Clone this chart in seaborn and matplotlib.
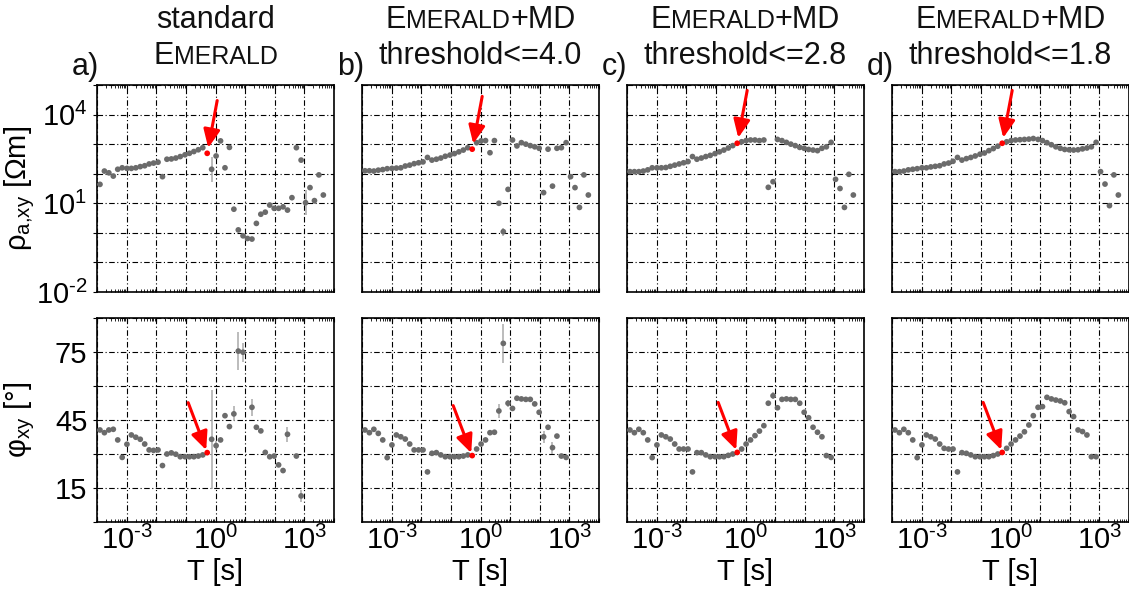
import numpy as np
import pandas as pd
import matplotlib
matplotlib.use("Agg")
import matplotlib.pyplot as plt
import seaborn as sns
from matplotlib.ticker import FixedLocator, FuncFormatter, NullFormatter

# ---------------- data ----------------
log_T = [-3.90, -3.75, -3.60, -3.45, -3.30, -3.15, -2.99, -2.84, -2.69, -2.54,
         -2.39, -2.24, -2.09, -1.94, -1.79, -1.64, -1.49, -1.34, -1.19, -1.03,
         -0.88, -0.73, -0.58, -0.43, -0.28, -0.13, 0.02, 0.17, 0.32, 0.47,
         0.62, 0.77, 0.93, 1.08, 1.23, 1.38, 1.53, 1.68, 1.83, 1.98,
         2.13, 2.28, 2.43, 2.58, 2.73, 2.89, 3.04, 3.19, 3.34, 3.49, 3.64]
red_index = 24
nan = np.nan

# panel a: standard EMERALD
rho_a = [1.64, 2.09, 2.03, 1.92, 2.15, 2.20, 2.18, 2.18, 2.20, 2.24,
         2.27, 2.33, 2.36, 2.39, 1.90, 2.49, 2.50, 2.53, 2.58, 2.64,
         2.69, 2.75, 2.81, 2.88, 2.69, 2.15, 2.60, 3.11, 2.20, 2.89,
         0.80, 0.10, -0.10, -0.19, -0.21, 0.32, 0.63, 0.70, 0.94, 0.83,
         0.83, 0.88, 0.77, 1.19, 2.88, 2.46, 1.02, 1.53, 1.09, 1.96, 1.28]
rho_a_err = {25: 0.42, 46: 0.43, 48: 0.10, 49: 0.08}
phi_a = [40.6, 39.4, 40.6, 40.9, 36.2, 28.5, 34.3, 38.4, 37.4, 36.5,
         34.4, 31.8, 31.6, 31.8, 24.9, 30.0, 30.5, 29.9, 28.8, 28.8,
         28.8, 28.8, 29.1, 29.6, 30.6, 36.5, 33.7, 36.2, 46.9, 42.1,
         47.7, 75.4, 74.9, nan, 50.6, 41.8, 40.2, 30.7, 28.8, 29.1,
         25.2, 22.7, 38.7, nan, 29.1, 11.5, nan, nan, nan, nan, nan]
phi_a_err = {25: 21.8, 26: 2.0, 30: 3.3, 31: 8.5, 32: 4.2, 34: 3.7, 42: 3.3, 45: 2.5}

# panel b: threshold <= 4.0
rho_b = [2.10, 2.10, 2.09, 2.12, 2.14, 2.17, 2.18, 2.19, 2.20, 2.26,
         2.29, 2.34, 2.37, 2.40, 2.55, 2.46, 2.49, 2.53, 2.59, 2.63,
         2.68, 2.74, 2.80, 2.88, 2.83, 3.05, 3.11, 3.12, 2.71, 3.12,
         1.00, 0.04, 1.47, 3.14, 2.94, 3.05, 3.00, 2.95, 2.91, 2.86,
         1.36, 2.83, 1.58, 2.86, 2.88, 3.05, 1.90, 1.53, 0.86, 1.96, 1.28]
rho_b_err = {31: 0.13, 32: 0.06, 49: 0.08}
phi_b = [40.6, 39.4, 40.9, 39.1, 36.2, 28.4, 34.0, 38.4, 37.6, 36.6,
         34.4, 31.8, 31.8, 31.8, 22.1, 30.3, 30.6, 29.6, 28.8, 28.8,
         28.8, 28.8, 29.1, 29.6, 29.3, 32.2, 34.4, 36.2, 39.4, 39.6,
         49.0, 78.8, 52.4, 50.1, 54.6, 54.3, 54.1, 54.1, 52.1, 48.4,
         37.6, 41.8, 32.8, 37.9, 29.1, 28.5, nan, nan, nan, nan, nan]
phi_b_err = {30: 3.0, 31: 8.7, 32: 1.5, 40: 2.6, 42: 2.6}

# panel c: threshold <= 2.8
rho_c = [2.07, 2.07, 2.07, 2.09, 2.13, 2.20, 2.20, 2.20, 2.21, 2.25,
         2.29, 2.33, 2.37, 2.41, 2.58, 2.49, 2.53, 2.58, 2.62, 2.68,
         2.74, 2.80, 2.87, 2.95, 3.03, 3.08, 3.12, 3.14, 3.14, 3.12,
         3.14, 1.54, 1.73, 3.16, 3.12, 3.06, 3.00, 2.95, 2.89, 2.86,
         2.82, 2.80, 2.78, 2.86, 2.91, 3.06, 1.81, 1.50, 0.86, 1.98, 1.28]
rho_c_err = {49: 0.08}
phi_c = [40.6, 39.4, 40.9, 39.4, 36.2, 28.4, 34.0, 38.4, 37.6, 36.6,
         34.4, 32.2, 32.2, 32.2, 22.1, 30.6, 30.6, 29.6, 28.8, 28.8,
         28.8, 28.8, 29.4, 30.0, 30.7, 32.2, 34.4, 36.2, 38.1, 40.1,
         42.5, 52.4, 55.7, 50.4, 54.1, 54.3, 54.1, 54.1, 52.4, 48.4,
         46.0, 41.8, 39.6, 37.6, 29.3, 28.5, nan, nan, nan, nan, nan]
phi_c_err = {32: 1.5}

# panel d: threshold <= 1.8
rho_d = [2.07, 2.07, 2.09, 2.13, 2.15, 2.17, 2.20, 2.20, 2.23, 2.25,
         2.27, 2.33, 2.36, 2.42, 2.55, 2.46, 2.51, 2.55, 2.60, 2.66,
         2.70, 2.78, 2.85, 2.93, 3.03, 3.08, 3.12, 3.14, 3.15, 3.16,
         3.17, 3.19, 3.16, 3.12, 3.05, 2.98, 2.91, 2.86, 2.82, 2.81,
         2.80, 2.81, 2.84, 2.87, 2.91, 3.06, 2.07, 1.65, 0.92, 1.96, 1.28]
rho_d_err = {46: 0.06, 49: 0.08}
phi_d = [40.6, 39.4, 40.9, 39.4, 36.2, 28.4, 34.0, 38.4, 37.6, 36.6,
         34.4, 32.5, 32.2, 32.2, 22.1, 30.6, 30.3, 29.6, 28.8, 28.8,
         28.8, 28.8, 29.3, 30.0, 30.7, 32.5, 34.4, 36.2, 37.9, 39.8,
         42.8, 46.9, 50.6, 50.9, 55.0, 54.3, 53.8, 53.4, 52.6, 48.7,
         46.5, 40.6, 39.9, 38.4, 28.8, 28.8, nan, nan, nan, nan, nan]
phi_d_err = {}

letters = ["a)", "b)", "c)", "d)"]
thresholds = ["4.0", "2.8", "1.8"]
x_label_decades = [-3, 0, 3]
rho_label_decades = [-2, 1, 4]
phi_labels = [15, 45, 75]

# ---------------- style ----------------
sns.set_theme(style="white")
plt.rcParams["font.family"] = ["Liberation Sans", "DejaVu Sans"]
plt.rcParams["mathtext.fontset"] = "custom"
plt.rcParams["mathtext.rm"] = "Liberation Sans"
plt.rcParams["mathtext.it"] = "Liberation Sans:italic"
plt.rcParams["mathtext.bf"] = "Liberation Sans:bold"
plt.rcParams["lines.scale_dashes"] = False
for key in ["text.color", "axes.labelcolor", "xtick.color", "ytick.color",
            "xtick.labelcolor", "ytick.labelcolor"]:
    plt.rcParams[key] = "black"

W, H = 1129, 597
fig = plt.figure(figsize=(W / 100, H / 100), dpi=100)

GRAY = "#6b6b6b"
ERR = "#a9a9a9"
GRID_LS = (0, (4.0, 1.8, 0.8, 1.8))
FS_TICK = 21
FS_TITLE = 22
FS_SC = 18

lefts = [97, 362, 627, 892]
AW = 237


def fig_axes(left, top, bottom):
    return fig.add_axes([left / W, 1 - bottom / H, AW / W, (bottom - top) / H])


def decade_fmt(labels):
    def f(v, pos):
        e = int(round(np.log10(v)))
        if e in labels:
            if e < 0:
                return r"$\mathregular{10^{\text{-}%d}}$" % (-e)
            return r"$\mathregular{10^{%d}}$" % e
        return ""
    return FuncFormatter(f)


def style_axes(ax):
    for sp in ax.spines.values():
        sp.set_color("black")
        sp.set_linewidth(1.2)
    ax.grid(True, which="major", color="black", linestyle=GRID_LS, linewidth=0.8)
    ax.set_axisbelow(True)
    ax.set_xscale("log")
    ax.set_xlim(1e-4, 1e4)
    ax.xaxis.set_major_locator(FixedLocator([10.0 ** i for i in range(-4, 5)]))
    minors = [m * 10.0 ** i for i in range(-4, 4) for m in range(2, 10)]
    ax.xaxis.set_minor_locator(FixedLocator(minors))
    ax.xaxis.set_minor_formatter(NullFormatter())
    ax.tick_params(axis="x", which="major", direction="in", length=3, width=0.8,
                   top=True, bottom=True, color="black", labelsize=FS_TICK, pad=3)
    ax.tick_params(axis="x", which="minor", direction="in", length=2, width=0.6,
                   top=True, bottom=True, color="black")
    ax.tick_params(axis="y", which="major", direction="out", length=3, width=0.8,
                   left=True, color="black", labelsize=FS_TICK, pad=4)


def draw_errors(ax, x, y, errs, is_log):
    if not errs:
        return
    idx = sorted(errs)
    xs = [x[i] for i in idx]
    if is_log:
        ys = [10.0 ** y[i] for i in idx]
        lo = [10.0 ** y[i] - 10.0 ** (y[i] - errs[i]) for i in idx]
        hi = [10.0 ** (y[i] + errs[i]) - 10.0 ** y[i] for i in idx]
    else:
        ys = [y[i] for i in idx]
        lo = [errs[i] for i in idx]
        hi = [errs[i] for i in idx]
    ax.errorbar(xs, ys, yerr=[lo, hi], fmt="none", ecolor=ERR, elinewidth=1.1,
                capsize=0, zorder=2)


panels = [
    (rho_a, rho_a_err, phi_a, phi_a_err),
    (rho_b, rho_b_err, phi_b, phi_b_err),
    (rho_c, rho_c_err, phi_c, phi_c_err),
    (rho_d, rho_d_err, phi_d, phi_d_err),
]

T = [10.0 ** v for v in log_T]

for p, (rho, rho_err, phi, phi_err) in enumerate(panels):
    left = lefts[p]
    df = pd.DataFrame({"T": T, "rho": [10.0 ** v for v in rho], "phi": phi})
    df["kind"] = "data"
    df.loc[red_index, "kind"] = "sel"
    gray = df[df["kind"] == "data"]
    red = df[df["kind"] == "sel"]

    # ---- apparent resistivity ----
    ax1 = fig_axes(left, 85, 292)
    style_axes(ax1)
    ax1.set_yscale("log")
    ax1.set_ylim(1e-2, 1e5)
    ax1.yaxis.set_major_locator(FixedLocator([10.0 ** i for i in range(-2, 6)]))
    ax1.yaxis.set_minor_locator(FixedLocator([]))
    ax1.yaxis.set_major_formatter(decade_fmt(rho_label_decades))
    draw_errors(ax1, T, rho, rho_err, True)
    sns.scatterplot(data=gray, x="T", y="rho", ax=ax1, color=GRAY, s=17,
                    edgecolor="none", linewidth=0, zorder=3, legend=False)
    sns.scatterplot(data=red, x="T", y="rho", ax=ax1, color="#ff0000", s=17,
                    edgecolor="none", linewidth=0, zorder=4, legend=False)
    rx, ry = red["T"].iloc[0], red["rho"].iloc[0]
    ax1.annotate("", xy=(rx, ry), xytext=(7.2, 38), textcoords="offset points",
                 arrowprops=dict(arrowstyle="-|>,head_length=0.55,head_width=0.25",
                                 color="#ff0000", lw=2.2, shrinkA=0, shrinkB=4,
                                 mutation_scale=20), zorder=5)
    ax1.set_xlabel("")
    ax1.set_ylabel("")
    ax1.tick_params(axis="x", labelbottom=False)
    if p == 0:
        ax1.set_ylabel(r"ρ$_{\mathregular{a{,}xy}}$ [Ωm]", fontsize=FS_TICK)
        ax1.yaxis.set_label_coords(-0.255, 0.5)
    else:
        ax1.tick_params(axis="y", labelleft=False, length=0)

    # ---- phase ----
    ax2 = fig_axes(left, 318, 522)
    style_axes(ax2)
    ax2.set_ylim(0, 90)
    ax2.yaxis.set_major_locator(FixedLocator(list(range(0, 91, 15))))
    ax2.yaxis.set_major_formatter(
        FuncFormatter(lambda v, pos: f"{int(round(v))}" if int(round(v)) in phi_labels else ""))
    draw_errors(ax2, T, phi, phi_err, False)
    sns.scatterplot(data=gray, x="T", y="phi", ax=ax2, color=GRAY, s=17,
                    edgecolor="none", linewidth=0, zorder=3, legend=False)
    sns.scatterplot(data=red, x="T", y="phi", ax=ax2, color="#ff0000", s=17,
                    edgecolor="none", linewidth=0, zorder=4, legend=False)
    px_, py_ = red["T"].iloc[0], red["phi"].iloc[0]
    ax2.annotate("", xy=(px_, py_), xytext=(-13.7, 36), textcoords="offset points",
                 arrowprops=dict(arrowstyle="-|>,head_length=0.55,head_width=0.25",
                                 color="#ff0000", lw=2.2, shrinkA=0, shrinkB=2,
                                 mutation_scale=20), zorder=5)
    ax2.xaxis.set_major_formatter(decade_fmt(x_label_decades))
    ax2.set_xlabel("T [s]", fontsize=FS_TICK, labelpad=2)
    ax2.set_ylabel("")
    if p == 0:
        ax2.set_ylabel(r"φ$_{\mathregular{xy}}$ [°]", fontsize=FS_TICK)
        ax2.yaxis.set_label_coords(-0.255, 0.5)
    else:
        ax2.tick_params(axis="y", labelleft=False, length=0)

# ---------------- titles with small caps ----------------
renderer = fig.canvas.get_renderer()


def seg_line(segs, xc, yb):
    texts = [fig.text(0, 0, s, fontsize=fs, va="baseline", ha="left", color="#111111")
             for s, fs in segs]
    widths = [t.get_window_extent(renderer).width for t in texts]
    x = xc - sum(widths) / 2
    for t, w in zip(texts, widths):
        t.set_position((x / W, 1 - yb / H))
        x += w


for p in range(4):
    xc = lefts[p] + AW / 2
    if p == 0:
        seg_line([("standard", FS_TITLE)], xc, 28)
        seg_line([("E", FS_TITLE), ("MERALD", FS_SC)], xc, 64)
    else:
        seg_line([("E", FS_TITLE), ("MERALD", FS_SC), ("+MD", FS_TITLE)], xc, 28)
        seg_line([("threshold<=" + thresholds[p - 1], FS_TITLE)], xc, 64)
    fig.text((lefts[p] - 25) / W, 1 - 75 / H, letters[p], fontsize=FS_TITLE,
             va="baseline", ha="left", color="#111111")

fig.savefig("out.png", dpi=100)
